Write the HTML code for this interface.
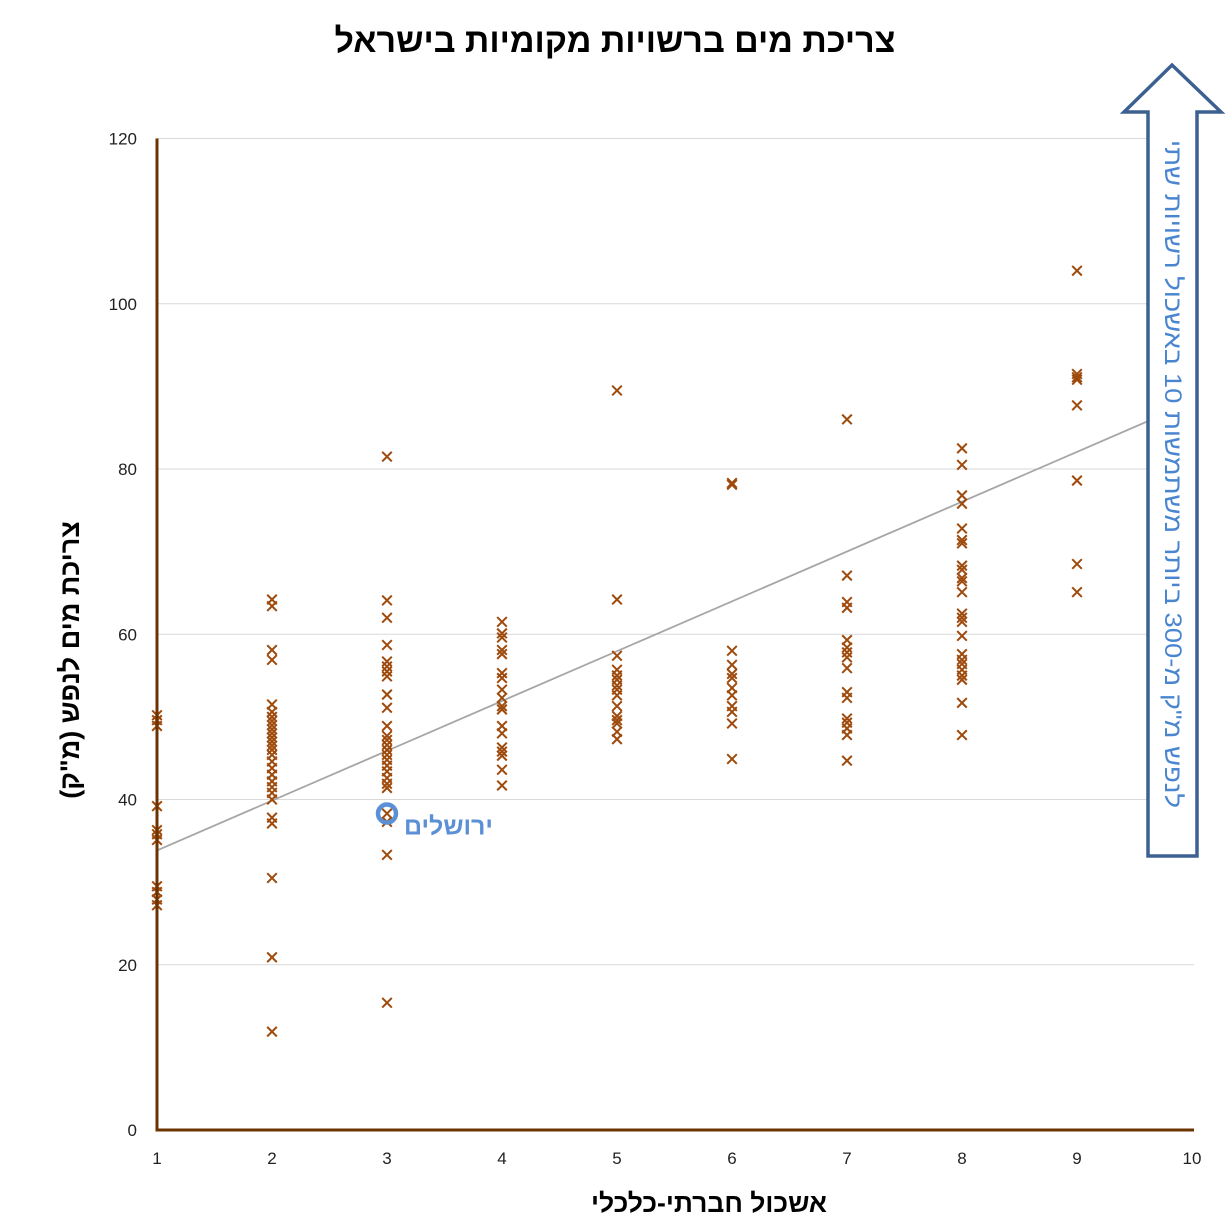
<!DOCTYPE html>
<html><head><meta charset="utf-8">
<style>
html,body{margin:0;padding:0;background:#fff;}
svg{display:block;}
text{font-family:"Liberation Sans","Noto Sans CJK SC","DejaVu Sans",sans-serif;}
</style></head>
<body>
<svg id="chart" width="1232" height="1225" viewBox="0 0 1232 1225" xmlns="http://www.w3.org/2000/svg">
  <text x="615" y="52" text-anchor="middle" font-size="34" font-weight="bold" fill="#000">צריכת מים ברשויות מקומיות בישראל</text>
  <g id="grid"></g>
  <g id="trend"></g>
  <g id="points"></g>
  <g id="axes"></g>
  <g id="ticks"></g>
  <text transform="translate(79,660) rotate(-90)" text-anchor="middle" font-size="27" font-weight="bold" fill="#000">צריכת מים לנפש (מ"ק)</text>
  <text x="709" y="1212" text-anchor="middle" font-size="26.5" font-weight="bold" fill="#000">אשכול חברתי-כלכלי</text>
  <g id="jer"></g>
  <g>
    <polygon points="1148,856 1197,856 1197,112 1221,112 1172,65 1124,112 1148,112" fill="#fff" stroke="#3c6190" stroke-width="3.5"/>
    <text transform="translate(1165,140) rotate(90)" text-anchor="start" font-size="24" fill="#4a86d0" textLength="668" lengthAdjust="spacingAndGlyphs">לנפש מ"ק מ-300 ביותר משתמשות 10 באשכול רשויות שתי</text>
  </g>
</svg>
<script>
const xTicks = [1,2,3,4,5,6,7,8,9,10];
const yTicks = [0,20,40,60,80,100,120];
const col1 = [50.2,49.6,48.9,39.2,36.3,35.8,35.1,29.5,28.8,27.9,27.2];
const col2 = [64.2,63.4,58.1,56.9,51.5,50.6,50.0,49.5,49.0,48.5,48.0,47.5,47.0,46.5,46.0,45.4,44.6,43.8,43.0,42.2,41.5,40.8,40.0,37.8,37.1,30.5,20.9,11.9];
const col3 = [81.5,64.1,62.0,58.7,56.7,56.1,55.5,54.9,52.7,51.1,48.9,47.7,47.2,46.6,46.0,45.4,44.8,44.1,43.4,42.6,41.9,41.4,38.3,37.3,33.3,15.4];
const col4 = [61.5,60.1,59.6,58.1,57.6,55.3,54.7,53.3,52.3,51.3,50.9,48.9,48.0,46.3,45.8,45.3,43.6,41.7];
const col5 = [89.5,64.2,57.4,55.7,55.0,54.5,53.8,53.3,52.6,51.3,50.1,49.6,49.2,48.2,47.3];
const col6 = [78.3,78.1,58.0,56.3,55.2,54.7,53.5,52.6,51.3,50.6,49.2,44.9];
const col7 = [86.0,67.1,63.9,63.2,59.3,58.4,57.8,57.2,55.9,53.0,52.3,49.8,49.3,48.6,47.8,44.7];
const col8 = [82.5,80.5,76.8,75.8,72.8,71.4,71.0,68.3,67.8,66.8,66.4,65.1,62.5,62.0,61.5,59.8,57.6,56.9,56.4,55.7,55.0,54.5,51.7,47.8];
const col9 = [104.0,91.5,91.1,90.8,87.7,78.6,68.5,65.1];
const clusters = [1,2,3,4,5,6,7,8,9];
const jerusalem = [3, 38.3];
const trendCoef = [27.8, 6.03]; // intercept, slope (incl. cluster-10 outliers off-chart)

const NS = "http://www.w3.org/2000/svg";
const X0=157, X1=1192, Y0=1130, Y1=138.5;
const xS = v => X0 + (v-1)*(X1-X0)/9;
const yS = v => Y0 - v*(Y0-Y1)/120;
function mk(tag, attrs, parent){const e=document.createElementNS(NS,tag);for(const k in attrs)e.setAttribute(k,attrs[k]);parent.appendChild(e);return e;}

const grid=document.getElementById('grid');
yTicks.forEach(t=>{ if(t===0)return;
  const l=mk('line',{x1:X0,x2:X1+2,y1:yS(t),y2:yS(t),stroke:'#d9d9d9','stroke-width':1},grid);
  
  
});
const ticks=document.getElementById('ticks');
yTicks.forEach(t=>{
  const tx=mk('text',{x:137,y:yS(t)+6,'text-anchor':'end','font-size':17,fill:'#222'},ticks);
  tx.textContent=t;
  
  
});
xTicks.forEach(t=>{
  const tx=mk('text',{x:xS(t),y:1164,'text-anchor':'middle','font-size':17,fill:'#222'},ticks);
  tx.textContent=t;
  
  
});

const tr=mk('line',{x1:xS(1),y1:yS(trendCoef[0]+trendCoef[1]*1),x2:xS(10),y2:yS(trendCoef[0]+trendCoef[1]*10),stroke:'#a6a6a6','stroke-width':1.8},document.getElementById('trend'));



const cols=[col1,col2,col3,col4,col5,col6,col7,col8,col9];
const pts=document.getElementById('points');
cols.forEach((c,i)=>{
  const xv=clusters[i];
  c.forEach(v=>{
    const cx=xS(xv), cy=yS(v), r=4.8;
    const p=mk('path',{d:`M${cx-r},${cy-r}L${cx+r},${cy+r}M${cx-r},${cy+r}L${cx+r},${cy-r}`,stroke:'#9e4a0c','stroke-width':2,fill:'none'},pts);
    
    
  });
});

const axes=document.getElementById('axes');
const ya=mk('line',{x1:X0,x2:X0,y1:Y1,y2:Y0+1.5,stroke:'#6b3300','stroke-width':3},axes);


const xa=mk('line',{x1:X0-1.5,x2:X1+2,y1:Y0,y2:Y0,stroke:'#6b3300','stroke-width':3},axes);



const jer=document.getElementById('jer');
const jc=mk('circle',{cx:xS(jerusalem[0]),cy:yS(jerusalem[1]),r:9,fill:'none',stroke:'#5b8fd6','stroke-width':4.5},jer);


const jt=mk('text',{x:xS(jerusalem[0])+17,y:yS(jerusalem[1])+21,'text-anchor':'start','font-size':25,'font-weight':'bold',fill:'#5b8fd6'},jer);
jt.textContent='ירושלים';


</script>
</body></html>
